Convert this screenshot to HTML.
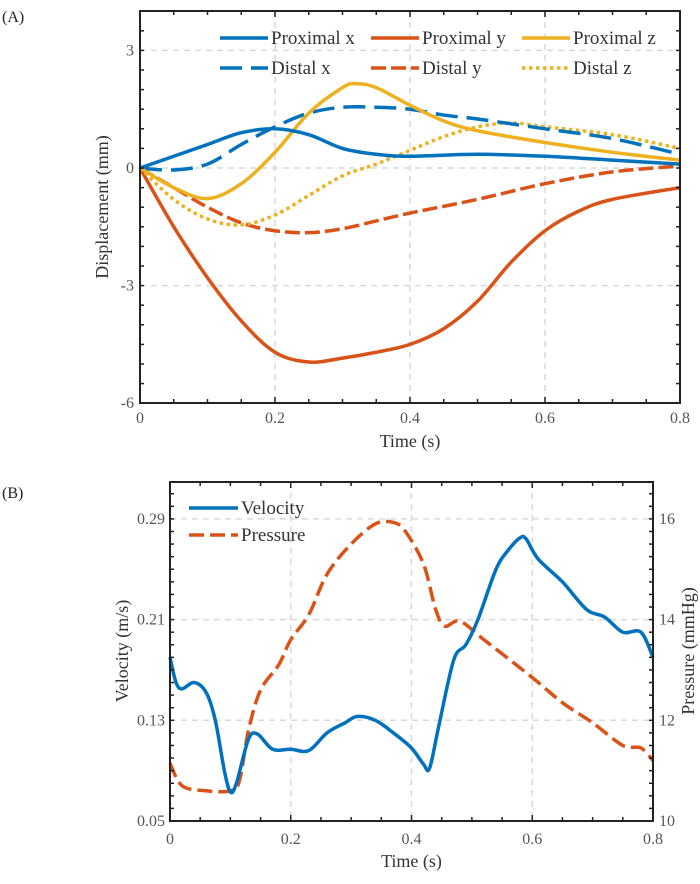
<!DOCTYPE html>
<html><head><meta charset="utf-8"><style>
body{margin:0;background:#fff;}
svg text{font-family:"Liberation Serif",serif;}
</style></head><body>
<svg width="700" height="879" viewBox="0 0 700 879" xmlns="http://www.w3.org/2000/svg">
<g id="A"></g>
<g id="B"></g>
</svg>
<script>
// Panel A data
const proximalX = [[0,0],[0.05,0.3],[0.1,0.6],[0.15,0.9],[0.2,1.0],[0.25,0.85],[0.3,0.5],[0.35,0.35],[0.4,0.3],[0.5,0.35],[0.6,0.3],[0.7,0.2],[0.8,0.1]];
const distalX = [[0,0],[0.05,-0.05],[0.1,0.1],[0.15,0.6],[0.2,1.05],[0.25,1.4],[0.3,1.55],[0.35,1.55],[0.4,1.5],[0.45,1.35],[0.5,1.25],[0.6,1.0],[0.7,0.75],[0.8,0.35]];
const proximalZ = [[0,0],[0.05,-0.5],[0.1,-0.78],[0.15,-0.4],[0.2,0.4],[0.25,1.4],[0.3,2.05],[0.32,2.15],[0.35,2.05],[0.4,1.6],[0.45,1.2],[0.5,0.95],[0.6,0.65],[0.7,0.4],[0.8,0.2]];
const proximalY = [[0,0],[0.05,-1.5],[0.1,-2.8],[0.15,-3.9],[0.2,-4.7],[0.25,-4.95],[0.3,-4.85],[0.35,-4.7],[0.4,-4.5],[0.45,-4.1],[0.5,-3.4],[0.55,-2.4],[0.6,-1.6],[0.65,-1.1],[0.7,-0.8],[0.8,-0.5]];
const distalY = [[0,0],[0.05,-0.5],[0.1,-1.0],[0.15,-1.4],[0.2,-1.6],[0.25,-1.65],[0.3,-1.55],[0.35,-1.35],[0.4,-1.15],[0.5,-0.8],[0.6,-0.4],[0.7,-0.1],[0.8,0.05]];
const distalZ = [[0,0],[0.05,-0.8],[0.1,-1.3],[0.15,-1.45],[0.2,-1.2],[0.25,-0.7],[0.3,-0.2],[0.35,0.1],[0.4,0.45],[0.45,0.8],[0.5,1.05],[0.55,1.15],[0.6,1.05],[0.7,0.85],[0.8,0.5]];
const xTicksA = [0,0.2,0.4,0.6,0.8];
const yTicksA = [3,0,-3,-6];
// Panel B data
const velocity = [[0,0.18],[0.01,0.16],[0.02,0.155],[0.04,0.16],[0.06,0.152],[0.075,0.13],[0.09,0.09],[0.1,0.073],[0.11,0.08],[0.13,0.115],[0.145,0.119],[0.17,0.107],[0.2,0.107],[0.23,0.106],[0.26,0.12],[0.29,0.128],[0.31,0.133],[0.34,0.13],[0.37,0.12],[0.4,0.108],[0.42,0.095],[0.43,0.092],[0.445,0.125],[0.47,0.178],[0.49,0.19],[0.51,0.21],[0.54,0.25],[0.56,0.265],[0.58,0.275],[0.59,0.274],[0.61,0.258],[0.65,0.24],[0.69,0.218],[0.72,0.212],[0.75,0.2],[0.78,0.2],[0.8,0.18]];
const pressure = [[0,11.15],[0.02,10.7],[0.06,10.6],[0.1,10.6],[0.115,10.8],[0.13,11.8],[0.15,12.6],[0.18,13.1],[0.2,13.6],[0.23,14.1],[0.26,14.9],[0.3,15.5],[0.34,15.9],[0.37,15.93],[0.39,15.75],[0.42,15.1],[0.44,14.2],[0.455,13.87],[0.48,13.97],[0.52,13.6],[0.6,12.85],[0.65,12.35],[0.7,11.95],[0.75,11.5],[0.78,11.45],[0.8,11.2]];
const xTicksB = [0,0.2,0.4,0.6,0.8];
const yTicksBL = [0.05,0.13,0.21,0.29];
const yTicksBR = [10,12,14,16];

const NS='http://www.w3.org/2000/svg';
function mk(parent,tag,attrs){const e=document.createElementNS(NS,tag);for(const k in attrs)e.setAttribute(k,attrs[k]);parent.appendChild(e);return e;}
function smooth(pts){let d='M'+pts[0][0].toFixed(2)+','+pts[0][1].toFixed(2);
 for(let i=0;i<pts.length-1;i++){const p0=pts[i-1]||pts[i],p1=pts[i],p2=pts[i+1],p3=pts[i+2]||p2;
 const c1=[p1[0]+(p2[0]-p0[0])/6,p1[1]+(p2[1]-p0[1])/6],c2=[p2[0]-(p3[0]-p1[0])/6,p2[1]-(p3[1]-p1[1])/6];
 d+='C'+c1.map(v=>v.toFixed(2)).join(',')+' '+c2.map(v=>v.toFixed(2)).join(',')+' '+p2.map(v=>v.toFixed(2)).join(',');}return d;}
const BLUE='#0072bd',RED='#d95319',YEL='#edb120',GRID='#d9d9d9';

function frame(g,L,T,R,Bt,xs,xt,yt,ys){
 xt.forEach(v=>{const x=xs(v);if(x>L+1&&x<R-1){const l=mk(g,'line',{x1:x,x2:x,y1:T,y2:Bt,stroke:GRID,'stroke-width':1.5,'stroke-dasharray':'6,5'});}});
 yt.forEach(v=>{const y=ys(v);if(y>T+1&&y<Bt-1){const l=mk(g,'line',{x1:L,x2:R,y1:y,y2:y,stroke:GRID,'stroke-width':1.5,'stroke-dasharray':'6,5'});}});
}
function box(g,L,T,R,Bt,xt,mx,my){
 const r=mk(g,'rect',{x:L,y:T,width:R-L,height:Bt-T,fill:'none',stroke:'#222','stroke-width':2});
 
 for(let i=0;i<(xt.length-1)*mx+1;i++){const x=L+(R-L)*i/((xt.length-1)*mx);const len=i%mx==0?6:4;
  mk(g,'line',{x1:x,x2:x,y1:Bt,y2:Bt-len,stroke:'#222','stroke-width':1.5});mk(g,'line',{x1:x,x2:x,y1:T,y2:T+len,stroke:'#222','stroke-width':1.5});}
 for(let i=0;i<=my.n;i++){const y=my.y0+my.step*i;if(y<T-0.5||y>Bt+0.5)continue;
  mk(g,'line',{x1:L,x2:L+4,y1:y,y2:y,stroke:'#222','stroke-width':1.5});mk(g,'line',{x1:R,x2:R-4,y1:y,y2:y,stroke:'#222','stroke-width':1.5});}
}
function series(g,pts,xs,ys,color,dash,name,w){
 const p=mk(g,'path',{d:smooth(pts.map(q=>[xs(q[0]),ys(q[1])])),fill:'none',stroke:color,'stroke-width':w||3.5,'stroke-dasharray':dash||'none'});
 
}
function txt(g,x,y,s,opts,name){const t=mk(g,'text',Object.assign({x:x,y:y,'font-size':16,fill:'#333'},opts||{}));t.textContent=s;return t;}

// ---- Panel A
(function(){
 const g=document.getElementById('A');
 const L=140,R=680,T=11,Bt=403;
 const xs=v=>L+(R-L)*v/0.8, ys=v=>168+(0-v)*39.2;
 frame(g,L,T,R,Bt,xs,xTicksA,yTicksA,ys);
 series(g,proximalY,xs,ys,RED,null,'proximal-y-line');
 series(g,distalY,xs,ys,RED,'15,5','distal-y-line');
 series(g,distalZ,xs,ys,YEL,'3.5,3.5','distal-z-line');
 series(g,distalX,xs,ys,BLUE,'22,9','distal-x-line');
 series(g,proximalZ,xs,ys,YEL,null,'proximal-z-line');
 series(g,proximalX,xs,ys,BLUE,null,'proximal-x-line');
 box(g,L,T,R,Bt,xTicksA,4,{y0:ys(4),step:39.2/2,n:20});
 xTicksA.forEach(v=>txt(g,xs(v),423,String(v),{'text-anchor':'middle','font-size':16,fill:'#555'},'x-tick-label'));
 yTicksA.forEach(v=>txt(g,L-6,ys(v)+5,String(v),{'text-anchor':'end','font-size':16,fill:'#555'},'y-tick-label'));
 txt(g,(L+R)/2,447,'Time (s)',{'text-anchor':'middle','font-size':18},'x-axis-title');
 txt(g,0,0,'Displacement (mm)',{'text-anchor':'middle','font-size':18,transform:'translate(108,207) rotate(-90)'},'y-axis-title');
 txt(g,2,22,'(A)',{'font-family':'Liberation Sans','font-size':16,fill:'#222'},'panel-a-label');
 const leg=[['Proximal  x',BLUE,null,220,44],['Proximal  y',RED,null,371,44],['Proximal  z',YEL,null,522,44],['Distal  x',BLUE,'22,9',220,74],['Distal  y',RED,'15,5',371,74],['Distal  z',YEL,'3.5,3.5',522,74]];
 leg.forEach(l=>{const lg=mk(g,'g',{});
  mk(lg,'line',{x1:l[3],x2:l[3]+48,y1:l[4]-6,y2:l[4]-6,stroke:l[1],'stroke-width':3.5,'stroke-dasharray':l[2]||'none'});
  txt(lg,l[3]+51,l[4],l[0],{'font-size':19,'xml:space':'preserve'},'legend-label');});
})();

// ---- Panel B
(function(){
 const g=document.getElementById('B');
 const L=170,R=653,T=482,Bt=821;
 const xs=v=>L+(R-L)*v/0.8, ys=v=>Bt-(v-0.05)/0.08*100.7, yr=v=>Bt-(v-10)/2*100.7;
 frame(g,L,T,R,Bt,xs,xTicksB,yTicksBL,ys);
 series(g,pressure,xs,yr,RED,'15,6','pressure-line');
 series(g,velocity,xs,ys,BLUE,null,'velocity-line');
 box(g,L,T,R,Bt,xTicksB,4,{y0:Bt-100.7*3-100.7/8*2,step:100.7/8,n:28});
 xTicksB.forEach(v=>txt(g,xs(v),844,String(v),{'text-anchor':'middle','font-size':16,fill:'#555'},'x-tick-label'));
 yTicksBL.forEach(v=>txt(g,L-5,ys(v)+5,v.toFixed(2),{'text-anchor':'end','font-size':16,fill:'#555'},'y-left-tick-label'));
 yTicksBR.forEach(v=>txt(g,R+6,yr(v)+5,String(v),{'text-anchor':'start','font-size':16,fill:'#555'},'y-right-tick-label'));
 txt(g,(L+R)/2,867,'Time (s)',{'text-anchor':'middle','font-size':18},'x-axis-title');
 txt(g,0,0,'Velocity (m/s)',{'text-anchor':'middle','font-size':18,transform:'translate(128,651) rotate(-90)'},'y-left-axis-title');
 txt(g,0,0,'Pressure (mmHg)',{'text-anchor':'middle','font-size':18,transform:'translate(694,651) rotate(-90)'},'y-right-axis-title');
 txt(g,2,498,'(B)',{'font-family':'Liberation Sans','font-size':16,fill:'#222'},'panel-b-label');
 [['Velocity',BLUE,null,514],['Pressure',RED,'15,6',541]].forEach(l=>{const lg=mk(g,'g',{});
  mk(lg,'line',{x1:189,x2:238,y1:l[3]-6,y2:l[3]-6,stroke:l[1],'stroke-width':3.5,'stroke-dasharray':l[2]||'none'});
  txt(lg,241,l[3],l[0],{'font-size':19},'legend-label');});
})();
</script>
</body></html>
